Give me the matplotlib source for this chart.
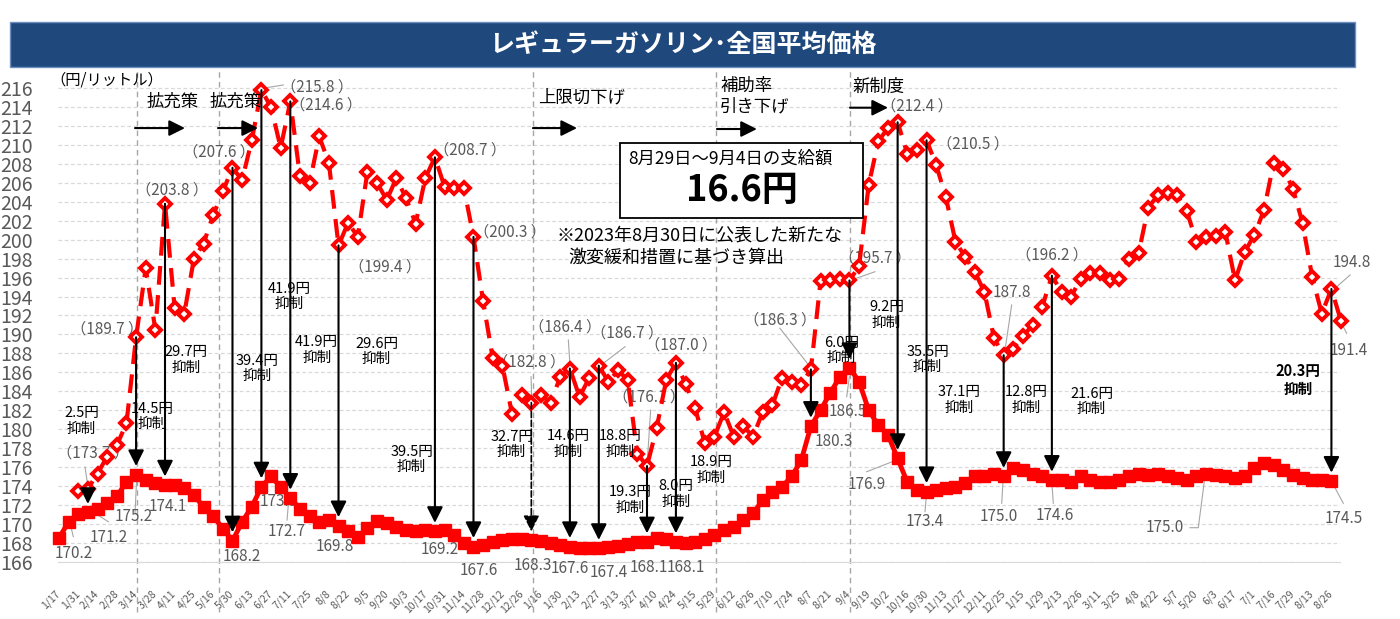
import numpy as np
import matplotlib
matplotlib.use("Agg")
import matplotlib.pyplot as plt
from matplotlib.patches import Rectangle

plt.rcParams['font.family'] = ['Noto Sans CJK JP', 'DejaVu Sans']

# ---------------- data ----------------
tick_labels = [
    "1/17", "1/31", "2/14", "2/28", "3/14", "3/28", "4/11", "4/25", "5/16", "5/30",
    "6/13", "6/27", "7/11", "7/25", "8/8", "8/22", "9/5", "9/20", "10/3", "10/17",
    "10/31", "11/14", "11/28", "12/12", "12/26",
    "1/16", "1/30", "2/13", "2/27", "3/13", "3/27", "4/10", "4/24", "5/15", "5/29",
    "6/12", "6/26", "7/10", "7/24", "8/7", "8/21", "9/4", "9/19", "10/2", "10/16",
    "10/30", "11/13", "11/27", "12/11", "12/25",
    "1/15", "1/29", "2/13", "2/26", "3/11", "3/25", "4/8", "4/22", "5/7", "5/20",
    "6/3", "6/17", "7/1", "7/16", "7/29", "8/13", "8/26",
]

# national average retail price (after subsidy), weekly
lower = [
    168.5, 170.2, 171.0, 171.2, 171.6, 172.2, 172.9, 174.4, 175.2, 174.6,
    174.3, 174.1, 174.1, 173.8, 173.0, 171.8, 170.8, 169.5, 168.2, 170.2,
    171.8, 173.9, 175.0, 173.9, 172.7, 171.6, 170.8, 170.2, 170.4, 169.8,
    169.2, 168.6, 169.6, 170.3, 170.1, 169.7, 169.3, 169.2, 169.4, 169.2,
    169.4, 168.8, 168.0, 167.6, 167.8, 168.1, 168.3, 168.4, 168.4, 168.3,
    168.2, 168.0, 167.8, 167.6, 167.4, 167.4, 167.4, 167.5, 167.7, 167.9,
    168.1, 168.1, 168.5, 168.4, 168.1, 168.0, 168.1, 168.4, 168.8, 169.3,
    169.7, 170.4, 171.1, 172.5, 173.4, 173.9, 175.0, 176.7, 180.3, 182.0,
    183.8, 185.5, 186.5, 185.0, 182.0, 180.4, 179.4, 176.9, 174.4, 173.6,
    173.4, 173.6, 173.8, 173.9, 174.3, 175.0, 175.1, 175.3, 175.0, 175.9,
    175.7, 175.3, 175.0, 174.6, 174.6, 174.4, 175.0, 174.6, 174.4, 174.4,
    174.6, 175.0, 175.3, 175.2, 175.3, 175.0, 174.8, 174.6, 175.0, 175.3,
    175.2, 175.0, 174.8, 175.0, 175.9, 176.4, 176.2, 175.7, 175.2, 174.8,
    174.6, 174.6, 174.5,
]

# price without the subsidy
upper = [
    np.nan, np.nan, 173.5, 173.7, 175.3, 177.1, 178.3, 180.6, 189.7, 197.0,
    190.5, 203.8, 192.8, 192.2, 198.0, 199.6, 202.6, 205.1, 207.6, 206.3,
    210.5, 215.8, 214.0, 209.7, 214.6, 206.7, 206.0, 210.9, 208.1, 199.4,
    201.8, 200.3, 207.2, 206.0, 204.2, 206.5, 204.4, 201.7, 206.5, 208.7,
    205.6, 205.5, 205.5, 200.3, 193.5, 187.5, 186.7, 181.6, 183.6, 182.8,
    183.6, 182.8, 185.5, 186.4, 183.4, 185.4, 186.7, 185.0, 186.2, 185.2,
    177.4, 176.1, 180.1, 185.2, 187.0, 184.8, 182.2, 178.5, 179.2, 181.8,
    179.2, 180.3, 179.2, 181.8, 182.5, 185.4, 185.0, 184.7, 186.3, 195.6,
    195.7, 195.9, 195.7, 197.2, 205.8, 210.4, 211.8, 212.4, 209.1, 209.5,
    210.5, 207.9, 204.5, 199.8, 198.2, 196.6, 194.5, 189.6, 187.8, 188.5,
    189.8, 191.0, 192.9, 196.2, 194.5, 194.0, 195.9, 196.5, 196.5, 195.7,
    195.9, 198.0, 198.6, 203.4, 204.7, 204.9, 204.7, 203.0, 199.8, 200.3,
    200.4, 200.8, 195.7, 198.7, 200.5, 203.1, 208.1, 207.5, 205.4, 201.8,
    196.1, 192.2, 194.8, 191.4,
]

arrow_idx = [3, 8, 11, 18, 21, 24, 29, 39, 43, 53, 56, 61, 64, 78, 82, 87, 90, 98, 103, 132]
dashed_arrow_idx = [49]
event_pos = [8.05, 16.6, 49.2, 68.2, 82.05]

# -------------- annotation layout --------------
upper_labels = [
    ("（189.7 ）", 5.04, 190.57), ("（203.8 ）", 11.7, 205.25), ("（207.6 ）", 16.62, 209.3),
    ("（215.8 ）", 26.74, 216.16), ("（214.6 ）", 27.7, 214.23), ("（199.4 ）", 33.82, 197.15),
    ("（208.7 ）", 42.64, 209.47), ("（200.3 ）", 46.79, 200.85), ("（182.8 ）", 48.76, 187.12),
    ("（186.4 ）", 52.55, 190.82), ("（186.7 ）", 58.9, 190.12), ("（176.1 ）", 61.21, 183.42),
    ("（187.0 ）", 64.53, 188.88), ("（186.3 ）", 74.79, 191.52), ("（195.7 ）", 84.65, 198.04),
    ("（212.4 ）", 88.98, 214.12), ("（210.5 ）", 94.85, 210.11), ("187.8", 98.83, 194.41),
    ("（196.2 ）", 103.01, 198.39), ("194.8", 134.1, 197.57), ("191.4", 133.75, 188.35),
]
lower_labels = [
    ("170.2", 1.49, 166.89), ("171.2", 5.19, 168.58), ("175.2", 7.71, 170.75),
    ("174.1", 11.26, 171.81), ("168.2", 18.96, 166.53), ("173.9", 22.75, 172.34),
    ("172.7", 23.62, 169.24), ("169.8", 28.63, 167.58), ("169.2", 39.53, 167.24),
    ("167.6", 43.54, 165.12), ("168.3", 49.2, 165.65), ("167.6", 53.0, 165.33),
    ("167.4", 57.0, 164.81), ("168.1", 61.21, 165.44), ("168.1", 65.04, 165.44),
    ("180.3", 80.4, 178.67), ("186.5", 81.8, 181.84), ("176.9", 83.79, 174.1),
    ("173.4", 89.84, 170.22), ("175.0", 97.44, 170.75), ("174.6", 103.32, 170.93),
    ("175.0", 114.73, 169.59), ("174.5", 133.23, 170.58),
]
leaders = [
    ([2.7, 3.0], [176.0, 174.0]), ([1.49, 1.15], [168.64, 170.05]),
    ([5.12, 3.22], [170.22, 171.46]), ([7.89, 8.06], [171.11, 174.81]),
    ([23.66, 23.86], [170.4, 172.83]), ([21.2, 23.27], [216.0, 216.34]),
    ([48.97, 49.04], [185.54, 183.25]), ([52.84, 53.01], [189.41, 186.77]),
    ([58.72, 56.47], [188.7, 186.95]), ([61.38, 61.03], [182.02, 176.56]),
    ([74.79, 77.91], [190.65, 186.59]), ([84.65, 82.4], [196.62, 195.82]),
    ([98.83, 98.14], [193.11, 188.35]), ([133.93, 132.37], [196.27, 194.87]),
    ([133.58, 133.06], [190.12, 191.17]), ([81.72, 81.99], [183.42, 185.54]),
    ([83.79, 86.9], [175.5, 176.74]), ([89.84, 90.02], [171.28, 173.39]),
    ([97.8, 97.96], [172.17, 174.98]), ([103.15, 102.98], [172.17, 174.63]),
    ([117.33, 118.19, 118.88], [169.59, 169.59, 174.98]),
    ([133.23, 132.03], [172.17, 174.45]),
]
arrow_texts = [
    ("2.5円\n抑制", 2.36, 180.86), ("14.5円\n抑制", 9.7, 181.31), ("29.7円\n抑制", 13.18, 187.3),
    ("39.4円\n抑制", 20.6, 186.42), ("41.9円\n抑制", 23.86, 193.98), ("41.9円\n抑制", 26.74, 188.35),
    ("29.6円\n抑制", 32.96, 188.18), ("39.5円\n抑制", 36.59, 176.82), ("32.7円\n抑制", 46.96, 178.38),
    ("14.6円\n抑制", 52.84, 178.43), ("18.8円\n抑制", 58.2, 178.43), ("19.3円\n抑制", 59.24, 172.52),
    ("8.0円\n抑制", 63.99, 173.15), ("18.9円\n抑制", 67.71, 175.68), ("6.0円\n抑制", 81.2, 188.27),
    ("9.2円\n抑制", 85.86, 192.05), ("35.5円\n抑制", 90.1, 187.38), ("37.1円\n抑制", 93.36, 183.08),
    ("12.8円\n抑制", 100.39, 183.08), ("21.6円\n抑制", 107.13, 182.9),
]
policy_texts = [
    ("拡充策", 9.13, 214.54, 7.89, 13.07, 211.79),
    ("拡充策", 15.67, 214.54, 16.5, 20.65, 211.79),
    ("上限切下げ", 49.69, 215.07, 49.17, 53.74, 211.79),
    ("補助率\n引き下げ", 68.57, 215.17, 68.26, 72.4, 211.69),
    ("新制度", 82.27, 216.12, 82.06, 86.0, 213.94),
]

GRAY = '#595959'
RED = '#FF0000'

fig = plt.figure(figsize=(14, 6.19), dpi=100)
fig.patch.set_facecolor('white')

# title banner
fig.patches.append(Rectangle((10 / 1400, 1 - 67 / 619), 1345 / 1400, 45 / 619,
                             transform=fig.transFigure, facecolor='#1F497D',
                             edgecolor='#6F8FC0', lw=1.0, zorder=0))
fig.text(683 / 1400, 1 - 45 / 619, "レギュラーガソリン･全国平均価格", color='white',
         fontsize=18, fontweight='bold', ha='center', va='center')

ax = fig.add_axes([58 / 1400, (619 - 561.7) / 619, 1282 / 1400, (561.7 - 78.73) / 619])
ax.set_xlim(-0.1, 132.89)
ax.set_ylim(166, 217)

ax.set_yticks(np.arange(166, 217, 2))
ax.tick_params(axis='y', length=0, pad=18, labelsize=14, labelcolor=GRAY)
ax.yaxis.grid(True, color='#D9D9D9', linestyle=(0, (3, 2)), lw=0.9)
ax.set_axisbelow(True)

xt = np.arange(0, len(lower), 2)
ax.set_xticks(xt)
ax.set_xticklabels(tick_labels, rotation=45, ha='right', va='center',
                   rotation_mode='anchor', fontsize=7.5, color=GRAY)
ax.tick_params(axis='x', length=0, pad=22)

for s in ['top', 'right', 'left']:
    ax.spines[s].set_visible(False)
ax.spines['bottom'].set_color('#D9D9D9')

# event lines
for p in event_pos:
    ax.plot([p, p], [160.7, 217.9], color='#A6A6A6', lw=1.0, ls=(0, (4, 3)),
            clip_on=False, zorder=1)

x_low = np.arange(len(lower))
x_up = np.arange(len(upper))
ax.plot(x_low, lower, color=RED, lw=3.5, marker='s', ms=8.5, zorder=4, clip_on=False)
ax.plot(x_up, upper, color=RED, lw=3, ls=(0, (4.5, 2.5)), marker='D', ms=6.5,
        mfc='white', mec=RED, mew=2.8, zorder=5, clip_on=False)

# arrows from price without subsidy to actual price
for i in arrow_idx:
    ax.annotate('', xy=(i, lower[i] + 0.9), xytext=(i, upper[i]),
                arrowprops=dict(arrowstyle='-|>,head_width=0.4,head_length=0.8',
                                color='black', lw=1.5, shrinkA=0, shrinkB=0,
                                mutation_scale=12), zorder=6)
for i in dashed_arrow_idx:
    ax.annotate('', xy=(i, lower[i] + 0.9), xytext=(i, upper[i]),
                arrowprops=dict(arrowstyle='-|>,head_width=0.4,head_length=0.8',
                                color='black', lw=1.2, ls='--', shrinkA=0, shrinkB=0,
                                mutation_scale=12), zorder=6)

for xs, ys in leaders:
    ax.plot(xs, ys, color='#A6A6A6', lw=0.8, clip_on=False, zorder=3)

ax.text(-0.2, 177.48, "（173.7 ）", ha='left', va='center', fontsize=11, color=GRAY, zorder=3)
for s, xi, yv in upper_labels + lower_labels:
    ax.text(xi, yv, s, ha='center', va='center', fontsize=11, color=GRAY, zorder=3)

for s, xi, yv in arrow_texts:
    ax.text(xi, yv, s, ha='center', va='center', fontsize=10.5, color='black',
            linespacing=1.1, zorder=7)
ax.text(128.56, 185.19, "20.3円\n抑制", ha='center', va='center', fontsize=10.5,
        fontweight='bold', color='black', linespacing=1.1, zorder=7)

for s, tx, ty, a0, a1, ay in policy_texts:
    ax.text(tx, ty, s, ha='left', va='center', fontsize=12.5, color='black',
            linespacing=1.2, zorder=7)
    ax.annotate('', xy=(a1, ay), xytext=(a0, ay),
                arrowprops=dict(arrowstyle='-|>,head_width=0.4,head_length=0.8',
                                color='black', lw=1.5, shrinkA=0, shrinkB=0,
                                mutation_scale=12), zorder=7)

# info box
ax.add_patch(Rectangle((58.2, 202.26), 83.37 - 58.2, 210.24 - 202.26, facecolor='white',
                       edgecolor='black', lw=1.3, zorder=6))
ax.text(69.66, 208.52, "8月29日～9月4日の支給額", ha='center', va='center', fontsize=12.5,
        color='black', zorder=7)
ax.text(70.8, 205.25, "16.6円", ha='center', va='center', fontsize=26, fontweight='bold',
        color='black', zorder=7)
ax.text(51.63, 200.48, "※2023年8月30日に公表した新たな", ha='left', va='center',
        fontsize=13, color='black', zorder=7)
ax.text(52.8, 198.07, "激変緩和措置に基づき算出", ha='left', va='center',
        fontsize=13, color='black', zorder=7)

fig.text(50 / 1400, 1 - 80 / 619, "（円/リットル）", ha='left', va='center',
         fontsize=11, color='black')

fig.savefig("out.png", dpi=100)
